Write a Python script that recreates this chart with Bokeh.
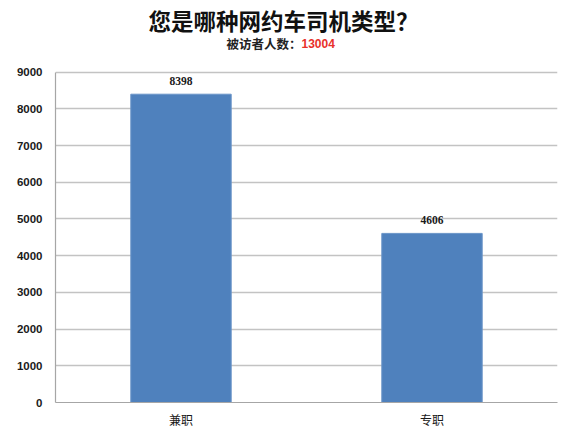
from bokeh.plotting import figure
from bokeh.models import ColumnDataSource, LabelSet, Label, SingleIntervalTicker
from bokeh.embed import file_html
from bokeh.resources import INLINE

categories = ["兼职", "专职"]
counts = [8398, 4606]
y_ticks_max = 9000
title_text = "您是哪种网约车司机类型？"
subtitle_prefix = "被访者人数："
subtitle_total = "13004"

W, H = 578, 436
source = ColumnDataSource(data=dict(cat=categories, val=counts, lbl=[str(v) for v in counts]))

# frame reaches the top of the canvas so the titles can sit inside it
p = figure(x_range=categories, y_range=(0, 10950), width=W, height=H,
           output_backend="svg", toolbar_location=None,
           min_border_left=55, min_border_right=21, min_border_top=0, min_border_bottom=34)
p.outline_line_color = None
p.background_fill_color = "white"
p.border_fill_color = "white"

p.vbar(x="cat", top="val", width=0.4, source=source,
       fill_color="#4F81BD", line_color="#6a94c8", line_width=1)

# gridlines
p.xgrid.grid_line_color = None
p.ygrid.grid_line_color = "#c3c3c3"
p.ygrid.grid_line_width = 1.6
p.yaxis.ticker = SingleIntervalTicker(interval=1000)
p.yaxis.bounds = (0, y_ticks_max)
p.ygrid.bounds = (0, y_ticks_max)

# y axis
p.yaxis.axis_line_color = "#a6a6a6"
p.yaxis.axis_line_width = 1.2
p.yaxis.major_tick_out = 0
p.yaxis.major_tick_in = 0
p.yaxis.minor_tick_out = 0
p.yaxis.minor_tick_in = 0
p.yaxis.major_label_standoff = 13
p.yaxis.major_label_text_font = "Liberation Sans"
p.yaxis.major_label_text_font_style = "bold"
p.yaxis.major_label_text_font_size = "11.5px"
p.yaxis.major_label_text_color = "#1a1a1a"

# x axis
p.xaxis.axis_line_color = "#a6a6a6"
p.xaxis.axis_line_width = 1.2
p.xaxis.major_tick_out = 0
p.xaxis.major_tick_in = 0
p.xaxis.major_label_standoff = 8
p.xaxis.major_label_text_font = "Noto Sans CJK SC"
p.xaxis.major_label_text_font_size = "12px"
p.xaxis.major_label_text_color = "#1a1a1a"

# value labels
labels = LabelSet(x="cat", y="val", text="lbl", source=source, y_offset=9,
                  text_align="center", text_baseline="bottom",
                  text_font="Liberation Sans", text_font_style="bold",
                  text_font_size="11.5px", text_color="#1a1a1a")
p.add_layout(labels)

# title and subtitle
p.add_layout(Label(x=0.908, y=10430, text=title_text, text_align="center",
                   text_baseline="middle", text_font="Noto Sans CJK SC",
                   text_font_style="bold", text_font_size="22.5px", text_color="#111111"))
p.add_layout(Label(x=0.98, y=9790, text=subtitle_prefix, text_align="right",
                   text_baseline="middle", text_font="Noto Sans CJK SC",
                   text_font_style="bold", text_font_size="12.5px", text_color="#222222"))
p.add_layout(Label(x=0.98, y=9790, text=subtitle_total, text_align="left",
                   text_baseline="middle", text_font="Liberation Sans",
                   text_font_style="bold", text_font_size="12px", text_color="#e8302a"))

open("out.html", "w").write(file_html(p, INLINE))
